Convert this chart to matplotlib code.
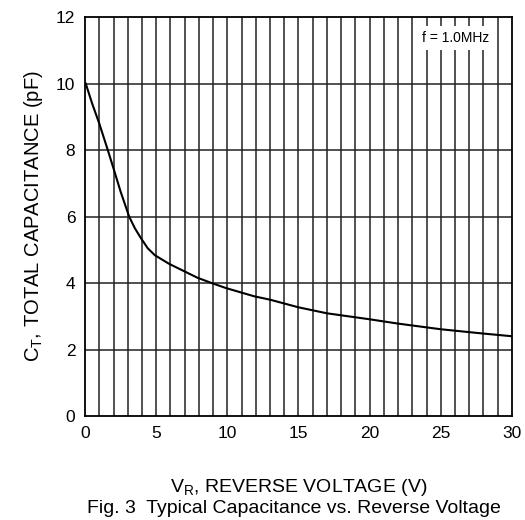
import matplotlib
matplotlib.use("Agg")
import matplotlib.pyplot as plt
import numpy as np

plt.rcParams['font.family'] = ['Liberation Sans', 'DejaVu Sans']
plt.rcParams['mathtext.fontset'] = 'custom'
plt.rcParams['mathtext.rm'] = 'Liberation Sans'
plt.rcParams['mathtext.it'] = 'Liberation Sans'

# values
vr = [0.05, 0.5, 1.0, 1.6, 2.0, 2.5, 3.1, 3.5, 3.9, 4.4, 4.9, 5.9, 6.9, 7.9, 8.9, 9.9,
      11.9, 13.0, 15.0, 17.0, 20.0, 22.0, 25.0, 28.0, 30.0]
ct = [10.0, 9.4, 8.8, 8.0, 7.45, 6.75, 6.0, 5.65, 5.37, 5.05, 4.84, 4.58, 4.37, 4.16, 4.0, 3.85,
      3.6, 3.5, 3.27, 3.09, 2.91, 2.78, 2.61, 2.48, 2.40]
x_ticks = [0, 5, 10, 15, 20, 25, 30]
y_ticks = [0, 2, 4, 6, 8, 10, 12]

fig = plt.figure(figsize=(5.25, 5.2), dpi=100)
ax = fig.add_axes([0.162, 0.2, 0.813, 0.767])

for v in range(1, 30):
	ax.axvline(v, color="#222222", lw=1.1, zorder=1)
for h in y_ticks[1:-1]:
	ax.axhline(h, color="#222222", lw=1.1, zorder=1)

ax.plot(vr, ct, color="black", lw=1.5, zorder=3)

ax.set_xlim(0, 30)
ax.set_ylim(0, 12)
ax.set_xticks(x_ticks)
ax.set_yticks(y_ticks)
ax.tick_params(length=0, labelsize=12.5, pad=7)
for s in ax.spines.values():
	s.set_linewidth(1.3)

ax.text(26.05, 11.38, "f = 1.0MHz", fontsize=10, ha="center", va="center", zorder=4,
	bbox=dict(facecolor="white", edgecolor="none", pad=3.5))

ax.set_ylabel(r"C$_\mathrm{T}$, TOTAL CAPACITANCE (pF)", fontsize=14.5, labelpad=8)
fig.text(0.568, 0.062, r"V$_\mathrm{R}$, REVERSE VOLTAGE (V)", fontsize=14, ha="center", va="center")
fig.text(0.56, 0.023, "Fig. 3  Typical Capacitance vs. Reverse Voltage", fontsize=14, ha="center", va="center")

plt.savefig("out.png", dpi=100)
